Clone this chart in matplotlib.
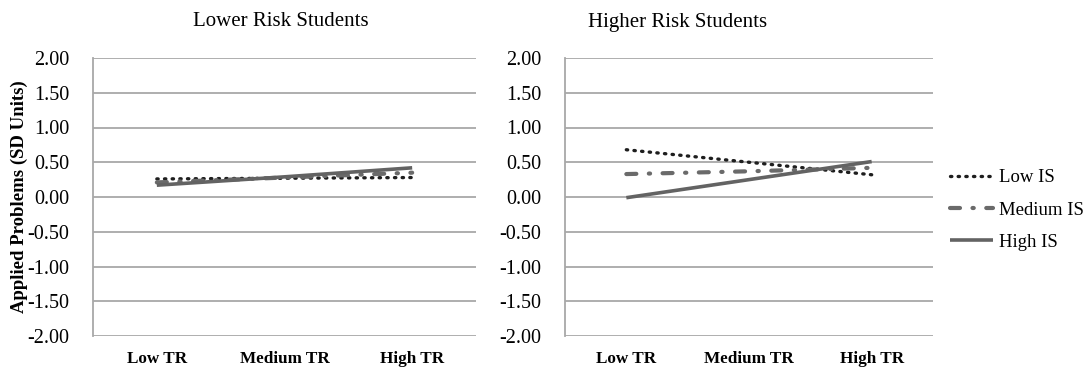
import matplotlib
matplotlib.use("Agg")
import matplotlib.pyplot as plt
from matplotlib.lines import Line2D

# ---- data ----
categories = ["Low TR", "Medium TR", "High TR"]
series_names = ["Low IS", "Medium IS", "High IS"]

lower_low_is = [0.26, 0.27, 0.28]
lower_medium_is = [0.21, 0.28, 0.35]
lower_high_is = [0.17, 0.29, 0.42]

higher_low_is = [0.68, 0.50, 0.32]
higher_medium_is = [0.33, 0.37, 0.42]
higher_high_is = [-0.01, 0.25, 0.51]

yticks = [2.0, 1.5, 1.0, 0.5, 0.0, -0.5, -1.0, -1.5, -2.0]

plt.rcParams["font.family"] = ["Liberation Serif", "DejaVu Serif"]

fig = plt.figure(figsize=(10.88, 3.67), dpi=100)
W, H = 1088, 367

def add_ax(x0, x1, y0, y1):
    return fig.add_axes([x0 / W, 1 - y1 / H, (x1 - x0) / W, (y1 - y0) / H])

ax_l = add_ax(93, 476, 58, 336)
ax_r = add_ax(565, 933, 58, 336)

styles = [
    dict(color="#1e1e1e", lw=2.4, linestyle=(0, (0.4, 1.9)), dash_capstyle="round"),
    dict(color="#6a6a6a", lw=3.0, linestyle=(0, (2.4, 3.0, 0.3, 3.0)), dash_capstyle="round"),
    dict(color="#636363", lw=2.6, linestyle="-", solid_capstyle="butt"),
]

x = list(range(len(categories)))
for ax, data in [(ax_l, [lower_low_is, lower_medium_is, lower_high_is]),
                 (ax_r, [higher_low_is, higher_medium_is, higher_high_is])]:
    for vals, st, name in zip(data, styles, series_names):
        ax.plot(x, vals, label=name, **st)
    ax.set_xlim(-0.5, 2.5)
    ax.set_ylim(-2.0, 2.0)
    ax.set_yticks(yticks)
    ax.set_yticklabels([f"{v:.2f}" for v in yticks], fontsize=14.5)
    ax.set_xticks(x)
    ax.set_xticklabels(categories, fontsize=12.3, fontweight="bold")
    ax.yaxis.grid(True, color="#a8a8a8", lw=1.3)
    ax.set_axisbelow(True)
    for s in ["top", "right", "bottom"]:
        ax.spines[s].set_visible(False)
    ax.spines["left"].set_color("#a8a8a8")
    ax.spines["left"].set_linewidth(1.3)
    ax.tick_params(length=0)
    ax.tick_params(axis="y", pad=17)
    ax.tick_params(axis="x", pad=11)

ax_l.set_ylabel("Applied Problems (SD Units)", fontsize=13.5, fontweight="bold")
ax_l.yaxis.set_label_coords((28 - 93) / (476 - 93), 0.5)

fig.text(281 / W, 1 - 22 / H, "Lower Risk Students", ha="center", va="center", fontsize=15)
fig.text(678 / W, 1 - 22 / H, "Higher Risk Students", ha="center", va="center", fontsize=15)

handles = [Line2D([], [], **st) for st in styles]
fig.legend(handles, series_names, loc="center left", bbox_to_anchor=(950 / W, 1 - 210 / H),
           frameon=False, fontsize=13.5, handlelength=2.3, handletextpad=0.3,
           labelspacing=0.8, borderaxespad=0, borderpad=0)

fig.savefig("out.png", dpi=100)
